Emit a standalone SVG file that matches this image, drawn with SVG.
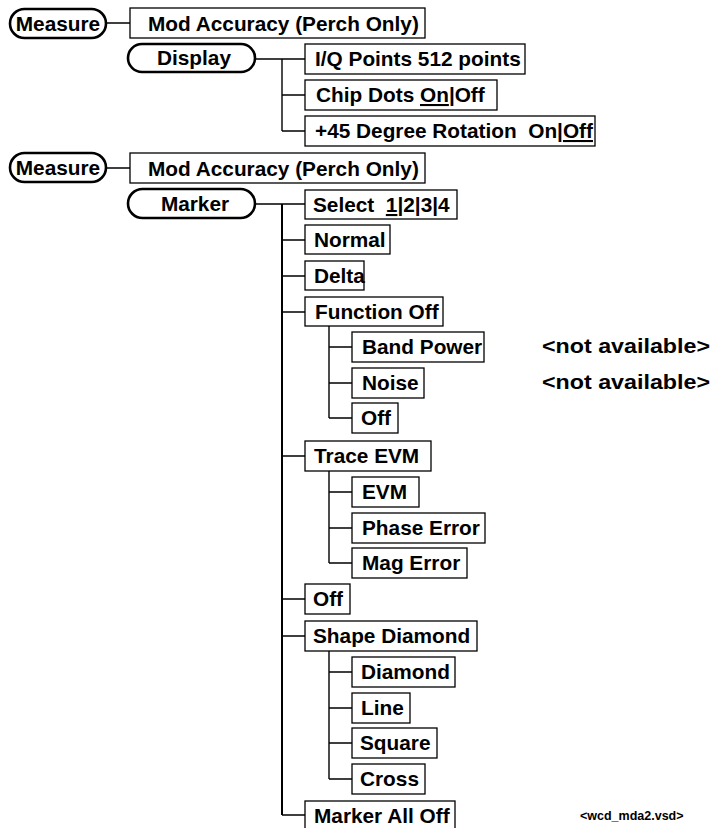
<svg xmlns="http://www.w3.org/2000/svg" width="716" height="828" viewBox="0 0 716 828">
<style>
text{font-family:"Liberation Sans",Arial,sans-serif;font-weight:bold;font-size:20.8px;fill:#000;white-space:pre}
.pill{fill:#fff;stroke:#000;stroke-width:2.6}
.box{fill:#fff;stroke:#000;stroke-width:1.3}
.c{fill:none;stroke:#000;stroke-width:1.4}
.m{text-anchor:middle}
.u{text-decoration:underline}
.note{font-size:12.5px}
</style>
<rect width="716" height="828" fill="#fff"/>
<g id="connectors">
<path class="c" d="M106 23H130M255 59H305M282 59V131M282 95H305M282 131H305"/>
<path class="c" d="M106 168H130M255 204H305M282 240H305M282 276H305M282 312H305M282 456H305M282 599H305M282 636H305M282 815H305"/>
<path class="c" style="stroke-width:2" d="M282 204V815"/>
<path class="c" d="M329 326V418M329 347H352M329 383H352M329 418H352"/>
<path class="c" d="M329 471V563M329 492H352M329 528H352M329 563H352"/>
<path class="c" d="M329 651V779M329 672H352M329 708H352M329 743H352M329 779H352"/>
</g>
<g id="measure1"><rect class="pill" x="10" y="9" width="96" height="29" rx="14.5"/><text class="m" x="58" y="31">Measure</text></g>
<g id="modacc1"><rect class="box" x="130" y="8" width="295" height="30"/><text x="148" y="31">Mod Accuracy (Perch Only)</text></g>
<g id="display"><rect class="pill" x="128" y="44" width="127" height="28" rx="14"/><text class="m" x="194" y="65">Display</text></g>
<g id="iq"><rect class="box" x="305" y="44" width="220" height="30"/><text x="315" y="66">I/Q Points 512 points</text></g>
<g id="chip"><rect class="box" x="305" y="80" width="192" height="30"/><text x="316" y="102">Chip Dots <tspan class="u">On</tspan>|Off</text></g>
<g id="rot"><rect class="box" x="305" y="116" width="290" height="30"/><text x="315" y="138">+45 Degree Rotation  On|<tspan class="u">Off</tspan></text></g>
<g id="measure2"><rect class="pill" x="10" y="153" width="96" height="29" rx="14.5"/><text class="m" x="58" y="175">Measure</text></g>
<g id="modacc2"><rect class="box" x="130" y="153" width="295" height="30"/><text x="148" y="176">Mod Accuracy (Perch Only)</text></g>
<g id="marker"><rect class="pill" x="128" y="189" width="127" height="29" rx="14.5"/><text class="m" x="195" y="211">Marker</text></g>
<g id="select"><rect class="box" x="305" y="190" width="152" height="29"/><text x="313" y="212">Select  <tspan class="u">1</tspan>|2|3|4</text></g>
<g id="normal"><rect class="box" x="305" y="225" width="85" height="29"/><text x="314" y="247">Normal</text></g>
<g id="delta"><rect class="box" x="305" y="261" width="59" height="29"/><text x="314" y="283">Delta</text></g>
<g id="funcoff"><rect class="box" x="305" y="297" width="138" height="29"/><text x="315" y="319">Function Off</text></g>
<g id="bandpower"><rect class="box" x="352" y="332" width="132" height="30"/><text x="362" y="354">Band Power</text></g>
<g id="noise"><rect class="box" x="352" y="368" width="72" height="30"/><text x="362" y="390">Noise</text></g>
<g id="off1"><rect class="box" x="352" y="403" width="46" height="30"/><text x="361" y="425">Off</text></g>
<g id="traceevm"><rect class="box" x="305" y="441" width="126" height="30"/><text x="314" y="463">Trace EVM</text></g>
<g id="evm"><rect class="box" x="352" y="477" width="67" height="30"/><text x="362" y="499">EVM</text></g>
<g id="phase"><rect class="box" x="352" y="513" width="133" height="30"/><text x="362" y="535">Phase Error</text></g>
<g id="mag"><rect class="box" x="352" y="548" width="115" height="30"/><text x="362" y="570">Mag Error</text></g>
<g id="off2"><rect class="box" x="305" y="584" width="45" height="30"/><text x="313" y="606">Off</text></g>
<g id="shape"><rect class="box" x="305" y="621" width="172" height="30"/><text x="313" y="643">Shape Diamond</text></g>
<g id="diamond"><rect class="box" x="352" y="657" width="103" height="30"/><text x="361" y="679">Diamond</text></g>
<g id="line"><rect class="box" x="352" y="693" width="58" height="30"/><text x="361" y="715">Line</text></g>
<g id="square"><rect class="box" x="352" y="728" width="85" height="30"/><text x="360" y="750">Square</text></g>
<g id="cross"><rect class="box" x="352" y="764" width="73" height="30"/><text x="360" y="786">Cross</text></g>
<g id="markeralloff"><rect class="box" x="305" y="801" width="150" height="30"/><text x="314" y="823">Marker All Off</text></g>
<text x="542" y="353" textLength="168" lengthAdjust="spacingAndGlyphs">&lt;not available&gt;</text>
<text x="542" y="389" textLength="168" lengthAdjust="spacingAndGlyphs">&lt;not available&gt;</text>
<text class="note" x="580" y="820">&lt;wcd_mda2.vsd&gt;</text>
</svg>
